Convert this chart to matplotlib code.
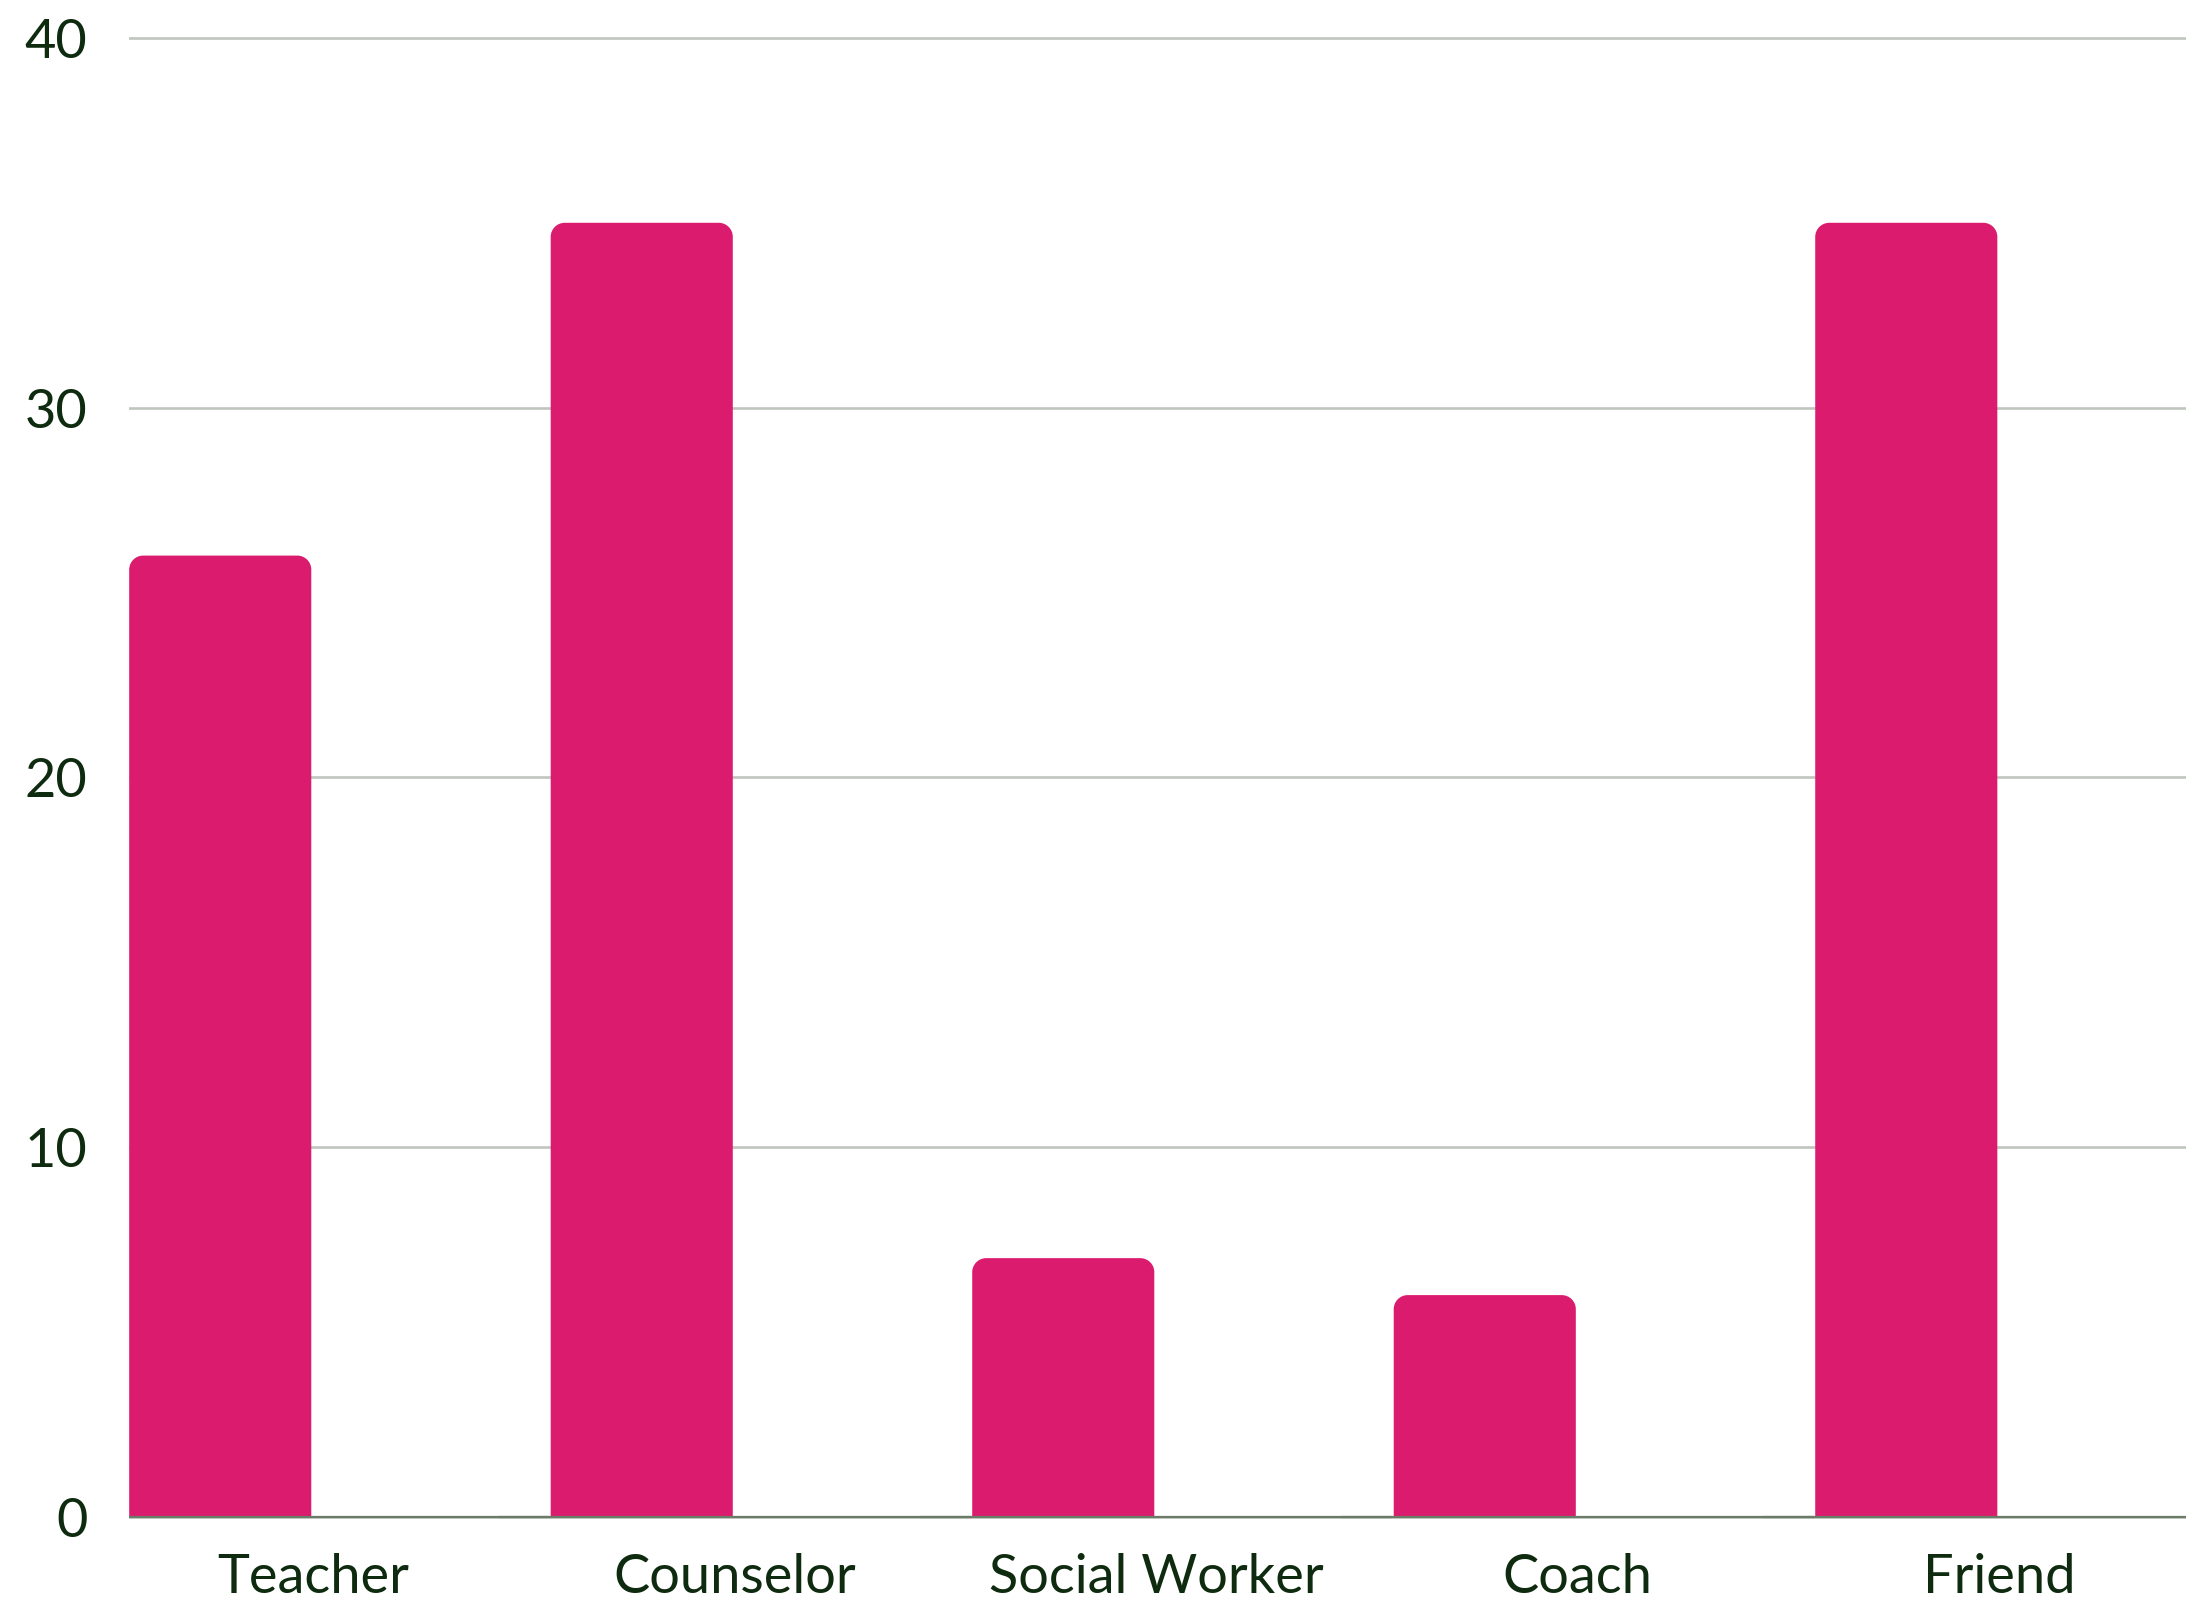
import numpy as np
import matplotlib
matplotlib.use("Agg")
import matplotlib.pyplot as plt
from matplotlib.path import Path
from matplotlib.patches import PathPatch

# data
categories = ["Teacher", "Counselor", "Social Worker", "Coach", "Friend"]
counts = [26, 35, 7, 6, 35]
other = [0, 0, 0, 0, 0]
y_ticks = [0, 10, 20, 30, 40]

# style
pink = "#db1b6d"
text_color = "#0f2b0f"
grid_color = "#bfc6be"
base_color = "#6b7b68"
plt.rcParams["font.family"] = ["Lato", "DejaVu Sans"]


def rounded_bar(ax, x0, x1, h, r_px, color):
    # bar with rounded top corners, radius given in pixels
    p0 = ax.transData.transform((0, 0))
    p1 = ax.transData.transform((1, 1))
    rx = r_px / (p1[0] - p0[0])
    ry = min(r_px / (p1[1] - p0[1]), h)
    k = 0.5523
    verts = [
        (x0, 0), (x0, h - ry),
        (x0, h - ry + k * ry), (x0 + rx - k * rx, h), (x0 + rx, h),
        (x1 - rx, h),
        (x1 - rx + k * rx, h), (x1, h - ry + k * ry), (x1, h - ry),
        (x1, 0), (x0, 0),
    ]
    codes = [Path.MOVETO, Path.LINETO,
             Path.CURVE4, Path.CURVE4, Path.CURVE4,
             Path.LINETO,
             Path.CURVE4, Path.CURVE4, Path.CURVE4,
             Path.LINETO, Path.CLOSEPOLY]
    ax.add_patch(PathPatch(Path(verts, codes), facecolor=color,
                           edgecolor="none", zorder=3))


fig = plt.figure(figsize=(22.01, 16.01), dpi=100)
ax = fig.add_axes([0.0586, 0.0511, 0.9346, 0.9266])
ax.set_xlim(-0.4365, 4.4437)
ax.set_ylim(-0.06, 40.06)

x = np.arange(len(categories))
bar_w = 0.432

# pink bars sit left of the category centre
for xi, v in zip(x, counts):
    rounded_bar(ax, xi - bar_w - 0.004, xi - 0.004, v, 14, pink)

# empty second series, only visible as a stub on the baseline
ax.bar(x - 0.5, other, width=0.12, color=base_color,
       edgecolor=base_color, linewidth=1.6, zorder=4)

ax.axhline(0, color=base_color, linewidth=1.6, zorder=4)

ax.set_yticks(y_ticks)
ax.yaxis.grid(True, color=grid_color, linewidth=1.9, zorder=0)
ax.set_axisbelow(True)
ax.set_xticks(x)
ax.set_xticklabels(categories)
ax.tick_params(axis="both", length=0, labelsize=39, labelcolor=text_color)
ax.tick_params(axis="y", pad=30)
ax.tick_params(axis="x", pad=24)
for s in ax.spines.values():
    s.set_visible(False)

fig.savefig("out.png", dpi=100, facecolor="white")
